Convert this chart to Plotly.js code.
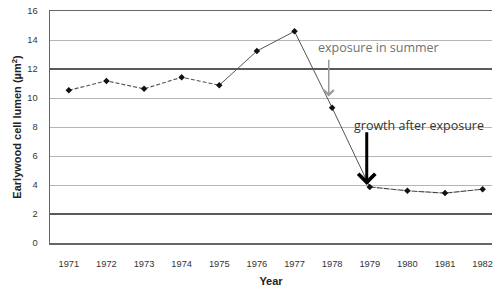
<!DOCTYPE html>
<html><head><meta charset="utf-8">
<script src="https://cdn.plot.ly/plotly-3.0.1.min.js"></script>
<style>html,body{margin:0;padding:0;background:#fff}#chart{width:494px;height:287px}</style>
</head><body><div id="chart"></div>
<script>
const years = ['1971','1972','1973','1974','1975','1976','1977','1978','1979','1980','1981','1982'];
const lumen = [10.53, 11.18, 10.63, 11.43, 10.88, 13.24, 14.6, 9.33, 3.87, 3.6, 3.44, 3.71];
const yTicks = [0, 2, 4, 6, 8, 10, 12, 14, 16];
const darkGrid = [2, 12];

const seg = (a, b) => ({x: years.slice(a, b + 1), y: lumen.slice(a, b + 1)});
const s1 = seg(0, 4), s2 = seg(4, 8), s3 = seg(8, 11);

const traces = [
  {x: s1.x, y: s1.y, type: 'scatter', mode: 'lines', line: {color: '#555', width: 1.1, dash: '4px,2px'}, hoverinfo: 'skip'},
  {x: s2.x, y: s2.y, type: 'scatter', mode: 'lines', line: {color: '#555', width: 1}, hoverinfo: 'skip'},
  {x: s3.x, y: s3.y, type: 'scatter', mode: 'lines', line: {color: '#444', width: 1.1, dash: '6px,1px'}, hoverinfo: 'skip'},
  {x: years, y: lumen, type: 'scatter', mode: 'markers', marker: {symbol: 'diamond', size: 5, color: '#111'}},
  {x: years, y: lumen, type: 'scatter', mode: 'markers', yaxis: 'y2', marker: {opacity: 0}, hoverinfo: 'skip'}
];

const fontTick = {family: 'Liberation Sans, Arial, sans-serif', size: 9.3, color: '#333'};
const layout = {
  width: 494, height: 287,
  margin: {l: 50, r: 2, t: 11, b: 44},
  paper_bgcolor: '#fff', plot_bgcolor: '#fff',
  showlegend: false,
  xaxis: {
    type: 'category', range: [-0.5, 11.25],
    showgrid: false, zeroline: false,
    showline: true, mirror: true, linecolor: '#666', linewidth: 1.5,
    ticks: 'outside', ticklen: 11, tickcolor: 'rgba(0,0,0,0)',
    tickfont: fontTick,
    title: {text: '<b>Year</b>', font: {family: 'Liberation Sans, Arial, sans-serif', size: 11, color: '#222'}, standoff: 9}
  },
  yaxis: {
    range: [0, 16], tickvals: yTicks,
    showgrid: true, gridcolor: '#b5b5b5', gridwidth: 1,
    zeroline: false, showline: true, linecolor: '#666', linewidth: 1.5,
    ticks: 'outside', ticklen: 9, tickcolor: 'rgba(0,0,0,0)',
    tickfont: fontTick,
    title: {text: '<b>Earlywood cell lumen (µm<sup>2</sup>)</b>', font: {family: 'Liberation Sans, Arial, sans-serif', size: 11, color: '#222'}, standoff: 3}
  },
  yaxis2: {
    overlaying: 'y', range: [0, 16], tickvals: darkGrid,
    showgrid: true, gridcolor: '#5a5a5a', gridwidth: 1.6,
    showticklabels: false, zeroline: false, showline: false
  },
  annotations: [
    {x: 8.23, y: 13.45, xref: 'x', yref: 'y', text: 'exposure in summer', showarrow: false,
     font: {family: 'Open Sans, sans-serif', size: 12.5, color: '#707070'}},
    {x: 6.91, y: 10.1, ax: 6.91, ay: 12.75, xref: 'x', yref: 'y', axref: 'x', ayref: 'y', text: '', showarrow: true,
     arrowhead: 4, arrowsize: 1.3, arrowwidth: 1.5, arrowcolor: '#999'},
    {x: 9.3, y: 8.1, xref: 'x', yref: 'y', text: 'growth after exposure', showarrow: false,
     font: {family: 'Open Sans, sans-serif', size: 12.5, color: '#333'}},
    {x: 7.92, y: 4.0, ax: 7.92, ay: 7.75, xref: 'x', yref: 'y', axref: 'x', ayref: 'y', text: '', showarrow: true,
     arrowhead: 4, arrowsize: 1.1, arrowwidth: 3, arrowcolor: '#000'}
  ]
};
Plotly.newPlot('chart', traces, layout, {displayModeBar: false, staticPlot: true});
</script></body></html>
